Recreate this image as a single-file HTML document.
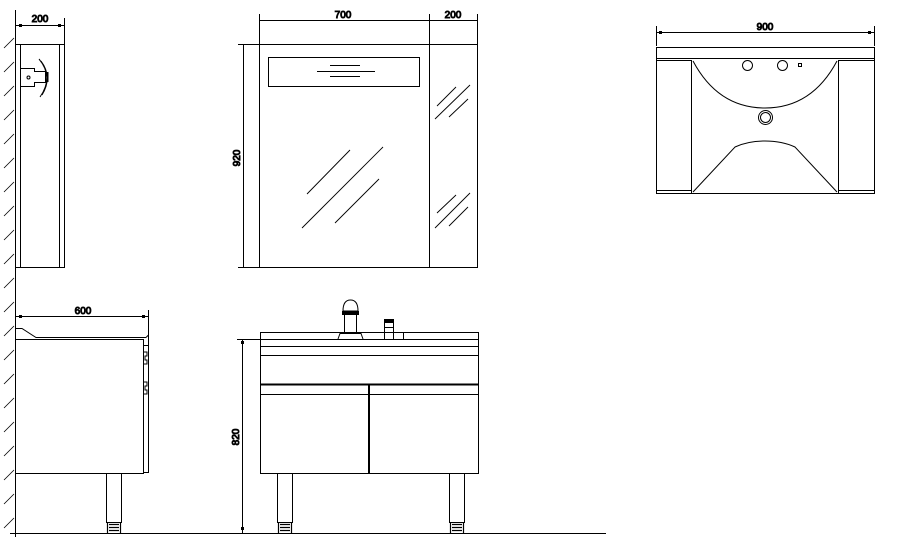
<!DOCTYPE html>
<html><head><meta charset="utf-8"><style>
html,body{margin:0;padding:0;background:#fff;}
svg{display:block;}
text{font-family:"Liberation Sans",sans-serif;font-size:10px;fill:#000;}
</style></head><body>
<svg width="905" height="547" viewBox="0 0 905 547" xmlns="http://www.w3.org/2000/svg" stroke="#000" fill="none" stroke-width="1">
<!-- wall -->
<line x1="15.5" y1="10" x2="15.5" y2="537"/>
<g stroke-width="0.8">
<path d="M4 48 L14 38 M4 72 L14 62 M4 96 L14 86 M4 120 L14 110 M4 144 L14 134 M4 168 L14 158 M4 192 L14 182 M4 216 L14 206 M4 240 L14 230 M4 264 L14 254 M4 288 L14 278 M4 312 L14 302 M4 336 L14 326 M4 360 L14 350 M4 384 L14 374 M4 408 L14 398 M4 432 L14 422 M4 456 L14 446 M4 480 L14 470 M4 504 L14 494 M4 528 L14 518"/>
</g>
<!-- floor -->
<line x1="10" y1="533.5" x2="606" y2="533.5"/>

<!-- top-left cabinet side -->
<rect x="15.5" y="44.5" width="49" height="223"/>
<line x1="20.5" y1="44.5" x2="20.5" y2="267.5"/>
<line x1="59.5" y1="44.5" x2="59.5" y2="267.5"/>
<line x1="15" y1="25.5" x2="64" y2="25.5"/>
<line x1="64.5" y1="18" x2="64.5" y2="44"/>
<rect x="19" y="24" width="3" height="3" fill="#000" stroke="none"/><rect x="58" y="24" width="3" height="3" fill="#000" stroke="none"/>
<text x="40" y="22" text-anchor="middle">200</text>
<path d="M20.5 68.5 H34.5 V71.5 H45.5 V82.5 H34.5 V86.5 H20.5"/>
<circle cx="28.5" cy="77.5" r="1.5"/>
<path d="M39 59 Q54 77 40 97"/>
<path d="M41 61 Q53 77 42 95"/>
<line x1="47.5" y1="72" x2="47.5" y2="82" stroke-width="2"/>

<!-- mirror cabinet -->
<rect x="259.5" y="44.5" width="218" height="223"/>
<line x1="429.5" y1="44.5" x2="429.5" y2="267.5"/>
<rect x="268.5" y="57.5" width="151" height="29"/>
<line x1="330" y1="65.5" x2="360" y2="65.5"/>
<line x1="317" y1="71.5" x2="375" y2="71.5"/>
<line x1="330" y1="76.5" x2="360" y2="76.5"/>
<g stroke-width="0.9">
<line x1="307" y1="194" x2="350" y2="150"/>
<line x1="302" y1="228" x2="383" y2="147"/>
<line x1="335" y1="223" x2="379" y2="179"/>
<line x1="437" y1="106" x2="456" y2="87"/>
<line x1="435" y1="119" x2="470" y2="85"/>
<line x1="449" y1="117" x2="468" y2="99"/>
<line x1="437" y1="213" x2="456" y2="195"/>
<line x1="435" y1="228" x2="470" y2="193"/>
<line x1="449" y1="226" x2="468" y2="207"/>
</g>
<line x1="259" y1="20.5" x2="477" y2="20.5"/>
<line x1="259.5" y1="14" x2="259.5" y2="44"/>
<line x1="429.5" y1="14" x2="429.5" y2="44"/>
<line x1="477.5" y1="14" x2="477.5" y2="44"/>
<text x="343" y="18" text-anchor="middle">700</text>
<text x="453" y="18" text-anchor="middle">200</text>
<line x1="243.5" y1="44" x2="243.5" y2="267"/>
<line x1="238" y1="44.5" x2="259" y2="44.5"/>
<line x1="238" y1="267.5" x2="259" y2="267.5"/>
<text x="0" y="0" text-anchor="middle" transform="translate(240,158) rotate(-90)">920</text>

<!-- basin top view -->
<line x1="656" y1="32.5" x2="874" y2="32.5"/>
<line x1="656.5" y1="26" x2="656.5" y2="46"/>
<line x1="874.5" y1="26" x2="874.5" y2="46"/>
<rect x="659" y="31" width="3" height="3" fill="#000" stroke="none"/><rect x="868" y="31" width="3" height="3" fill="#000" stroke="none"/>
<text x="765" y="30" text-anchor="middle">900</text>
<rect x="656.5" y="47.5" width="218" height="146"/>
<line x1="656" y1="58.5" x2="874" y2="58.5"/>
<line x1="656" y1="60.5" x2="692" y2="60.5"/>
<line x1="838" y1="60.5" x2="874" y2="60.5"/>
<line x1="691.5" y1="60" x2="691.5" y2="193"/>
<line x1="838.5" y1="60" x2="838.5" y2="193"/>
<line x1="656" y1="190.5" x2="692" y2="190.5"/>
<line x1="838" y1="190.5" x2="874" y2="190.5"/>
<path d="M693 61 Q718 108 765 108 Q812 108 837 61"/>
<circle cx="747.5" cy="65.5" r="5"/>
<circle cx="782.5" cy="65.5" r="5"/>
<rect x="798.5" y="63.5" width="3" height="3"/>
<circle cx="765.5" cy="117.5" r="7"/>
<circle cx="765.5" cy="117.5" r="5"/>
<path d="M693 192 L735 147 Q748 141 765 141 Q782 141 795 147 L837 192"/>

<!-- side view bottom -->
<line x1="15" y1="316.5" x2="148" y2="316.5"/>
<line x1="148.5" y1="310" x2="148.5" y2="345"/>
<rect x="19" y="315" width="3" height="3" fill="#000" stroke="none"/><rect x="142" y="315" width="3" height="3" fill="#000" stroke="none"/>
<text x="83" y="314" text-anchor="middle">600</text>
<path d="M16 328.5 H22 L36 337.5 H146"/>
<path d="M38 339.5 H143"/>
<path d="M146 337.5 L148.5 335 V345"/>
<rect x="15.5" y="339.5" width="128" height="134"/>
<path d="M143.5 345.5 H148.5 V472.5 H143.5"/>
<path d="M143.5 352 H147 V356 H145 V360 H147 V364 H143.5"/>
<path d="M143.5 382 H147 V386 H145 V390 H147 V394 H143.5"/>
<rect x="106.5" y="473.5" width="15" height="49"/>
<path d="M107.5 522.5 V533 M120.5 522.5 V533 M109 524.5 H119 M109 527.5 H119 M109 530.5 H119" stroke-width="1.2"/>

<!-- front view bottom -->
<rect x="260.5" y="332.5" width="218" height="141"/>
<line x1="260" y1="339.5" x2="478" y2="339.5"/>
<line x1="260" y1="346.5" x2="478" y2="346.5"/>
<line x1="260" y1="355.5" x2="478" y2="355.5"/>
<line x1="260" y1="384.5" x2="478" y2="384.5" stroke-width="2"/>
<line x1="260" y1="394.5" x2="478" y2="394.5"/>
<line x1="369" y1="384" x2="369" y2="473" stroke-width="2"/>
<rect x="277.5" y="473.5" width="15" height="49"/>
<rect x="449.5" y="473.5" width="15" height="49"/>
<path d="M278.5 522.5 V533 M291.5 522.5 V533 M280 524.5 H290 M280 527.5 H290 M280 530.5 H290" stroke-width="1.2"/>
<path d="M450.5 522.5 V533 M463.5 522.5 V533 M452 524.5 H462 M452 527.5 H462 M452 530.5 H462" stroke-width="1.2"/>
<!-- faucet -->
<path d="M343 311 Q343 300 350.5 300 Q358 300 358 311 Z"/>
<rect x="342.5" y="311.5" width="16" height="3" fill="#000"/>
<path d="M344.5 314 V333 M356.5 314 V333"/>
<path d="M338 339 L340 333.5 H361 L363 339"/>
<rect x="384.5" y="319.5" width="9" height="20"/>
<rect x="385" y="319" width="8" height="4" fill="#000" stroke="none"/>
<line x1="384" y1="327.5" x2="394" y2="327.5"/>
<line x1="403.5" y1="333" x2="403.5" y2="339"/>
<line x1="242.5" y1="339" x2="242.5" y2="533"/>
<line x1="237" y1="339.5" x2="260" y2="339.5"/>
<rect x="241" y="341" width="3" height="3" fill="#000" stroke="none"/><rect x="241" y="527" width="3" height="3" fill="#000" stroke="none"/>
<text x="0" y="0" text-anchor="middle" transform="translate(239,437) rotate(-90)">820</text>
</svg>
</body></html>
